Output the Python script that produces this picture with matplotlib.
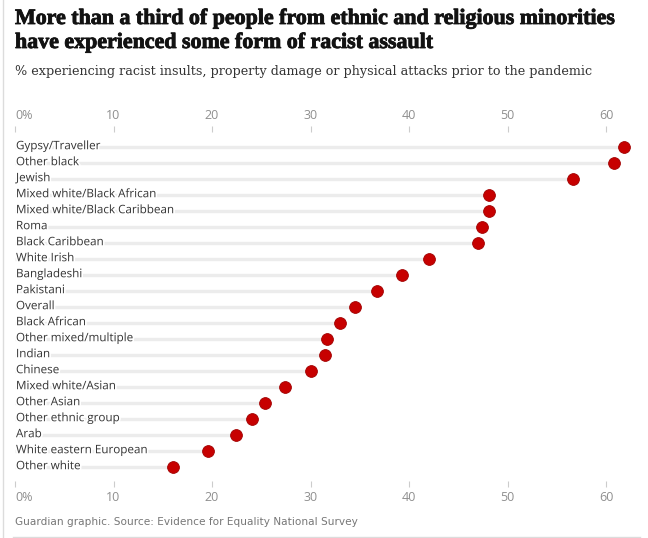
import matplotlib
matplotlib.use("Agg")
import matplotlib.pyplot as plt
import matplotlib.patheffects as pe

# values (%)
groups = [
    "Gypsy/Traveller", "Other black", "Jewish", "Mixed white/Black African",
    "Mixed white/Black Caribbean", "Roma", "Black Caribbean", "White Irish",
    "Bangladeshi", "Pakistani", "Overall", "Black African",
    "Other mixed/multiple", "Indian", "Chinese", "Mixed white/Asian",
    "Other Asian", "Other ethnic group", "Arab", "White eastern European",
    "Other white",
]
values = [61.8, 60.8, 56.6, 48.1, 48.1, 47.4, 47.0, 42.0, 39.3, 36.8, 34.5,
          33.0, 31.7, 31.5, 30.0, 27.4, 25.4, 24.1, 22.4, 19.6, 16.0]
xticks = [0, 10, 20, 30, 40, 50, 60]
xtick_labels = ["0%", "10", "20", "30", "40", "50", "60"]

W, H = 648, 538
fig = plt.figure(figsize=(W / 100, H / 100), dpi=100)

# axes placed in pixel terms: x=0 at 15px, 60 at 606px
x0_px, per_unit = 15, (606 - 15) / 60
xmax = 64
ax_left, ax_right = x0_px, x0_px + xmax * per_unit
row0, rowstep = 147, (467 - 147) / 20
ax_top, ax_bot = 132, 481
ax = fig.add_axes([ax_left / W, 1 - ax_bot / H, (ax_right - ax_left) / W, (ax_bot - ax_top) / H])
ax.set_xlim(0, xmax)
ax.set_ylim((ax_bot - row0) / rowstep, (ax_top - row0) / rowstep)

ys = range(len(groups))
ax.hlines(ys, 0, values, color="#ececec", lw=2.4, zorder=1)
ax.scatter(values, ys, s=72, color="#c70000", edgecolor="#a00000", lw=0.6, zorder=3)
for y, g in zip(ys, groups):
    ax.text(0.1, y - 0.08, g, fontsize=8.4, color="#333333", va="center", ha="left",
            family="Open Sans", zorder=2,
            path_effects=[pe.withStroke(linewidth=2.5, foreground="white")])

for s in ax.spines.values():
    s.set_visible(False)
ax.set_yticks([])
ax.set_xticks(xticks)
ax.set_xticklabels(xtick_labels, family="Open Sans")
ax.tick_params(axis="x", top=True, labeltop=True, bottom=True, labelbottom=True,
               length=4, width=0.8, color="#cccccc", labelcolor="#8f8f8f",
               labelsize=9, pad=3)
for t in ax.xaxis.get_major_ticks()[:1]:
    t.label1.set_ha("left")
    t.label2.set_ha("left")

# titles
fig.text(15 / W, 1 - 24 / H, "More than a third of people from ethnic and religious minorities",
         family="Liberation Serif", weight="bold", fontsize=15.8, color="#121212",
         va="baseline", ha="left",
         path_effects=[pe.withStroke(linewidth=0.6, foreground="#121212")])
fig.text(15 / W, 1 - 48 / H, "have experienced some form of racist assault",
         family="Liberation Serif", weight="bold", fontsize=15.8, color="#121212",
         va="baseline", ha="left",
         path_effects=[pe.withStroke(linewidth=0.6, foreground="#121212")])
fig.text(15 / W, 1 - 72 / H, "% experiencing racist insults, property damage or physical attacks prior to the pandemic",
         family="DejaVu Serif", fontsize=9.2, color="#333333", va="center", ha="left")
fig.text(15 / W, 1 - 522 / H, "Guardian graphic. Source: Evidence for Equality National Survey",
         family="DejaVu Sans", fontsize=7.6, color="#777777", va="center", ha="left")

# frame lines
fig.add_artist(plt.Line2D([3 / W, 3 / W], [0, 1], color="#dcdcdc", lw=1))
fig.add_artist(plt.Line2D([13 / W, 640 / W], [1 - 536.5 / H] * 2, color="#dcdcdc", lw=1))

fig.savefig("out.png", dpi=100, facecolor="white")
